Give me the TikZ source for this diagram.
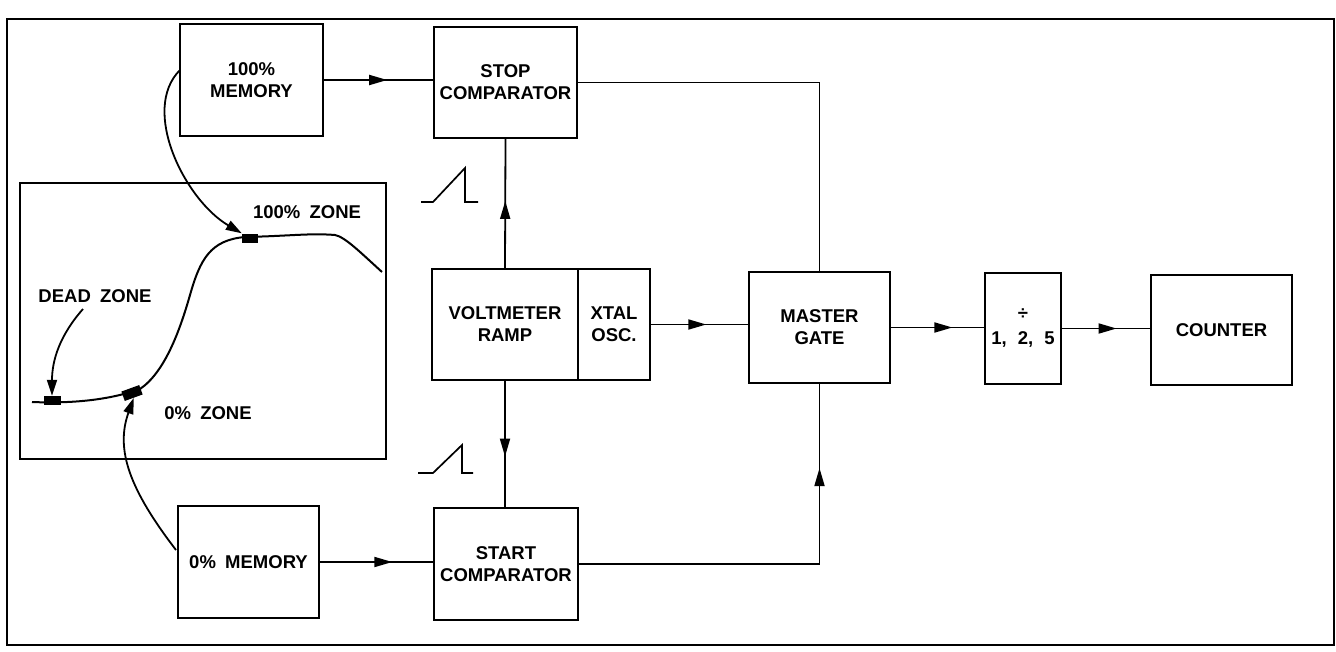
\documentclass[tikz,border=0pt]{standalone}
\usepackage{fontspec}
\setmainfont{Liberation Sans}
\usetikzlibrary{arrows.meta,decorations.markings}
\newcommand\lbl{\fontsize{18.5}{22}\selectfont\bfseries}
\begin{document}
\begin{tikzpicture}[x=1pt,y=-1pt,
  box/.style={draw,line width=2pt,inner sep=0pt,align=center,font=\lbl},
  wire/.style={line width=1.8pt},
  midarrow/.style={postaction={decorate},decoration={markings,mark=at position #1 with {\arrow{Triangle[length=18pt,width=10pt]}}}},
  tiparrow/.style={-{Triangle[length=16pt,width=10pt]}},
  marker/.style={fill=black,inner sep=0pt,minimum width=16pt,minimum height=9pt},
  txt/.style={font=\lbl,inner sep=0pt}]
\useasboundingbox (0,0) rectangle (1336,651);
% frame
\draw[line width=2pt] (7,19) rectangle (1334,645);
% blocks
\node[box,minimum width=143pt,minimum height=112pt] (mem100) at (251.5,80) {100\%\\MEMORY};
\node[box,minimum width=143pt,minimum height=111pt] (stop) at (505.5,82.5) {STOP\\COMPARATOR};
\node[box,minimum width=146pt,minimum height=111pt] (volt) at (505,324.5) {VOLTMETER\\RAMP};
\node[box,minimum width=72pt,minimum height=111pt] (xtal) at (614,324.5) {XTAL\\OSC.};
\node[box,minimum width=141pt,minimum height=111pt] (master) at (819.5,327.5) {MASTER\\GATE};
\node[box,minimum width=76pt,minimum height=111pt] (div) at (1023,328.5) {÷\\[3pt]1,\hspace{0.6em}2,\hspace{0.6em}5};
\node[box,minimum width=141pt,minimum height=110pt] (counter) at (1221.5,330) {COUNTER};
\node[box,minimum width=141pt,minimum height=112pt] (mem0) at (248.5,562) {0\%\hspace{0.5em}MEMORY};
\node[box,minimum width=144pt,minimum height=112pt] (start) at (506,564) {START\\COMPARATOR};
% graph panel
\draw[line width=2pt] (20,183) rectangle (386,459);
\draw[line width=2pt] (32,402) .. controls (80,404) and (115,398) .. (140,389)
  .. controls (165,372) and (180,330) .. (190,295)
  .. controls (200,260) and (210,240) .. (245,237)
  .. controls (290,236) and (310,233) .. (335,235)
  .. controls (345,237) and (360,252) .. (382,272);
\node[marker,minimum width=17pt] (mdead) at (52,400.5) {};
\node[marker,minimum width=19pt,minimum height=10pt,rotate=20] (mzero) at (132,393) {};
\node[marker] (mfull) at (250,238) {};
\node[txt] (ldead) at (95,296) {DEAD\hspace{0.5em}ZONE};
\node[txt] (lfull) at (307,212) {100\%\hspace{0.5em}ZONE};
\node[txt] (lzero) at (208,413) {0\%\hspace{0.5em}ZONE};
% curved pointers
\coordinate (p1) at (180,70);
\coordinate (p2) at (83,309);
\coordinate (p3) at (176,550);
\draw[wire,tiparrow] (p1) .. controls (140,110) and (185,200) .. (mfull.north west);
\draw[wire,tiparrow] (p2) .. controls (60,335) and (52,360) .. (mdead.north);
\draw[wire,tiparrow] (p3) .. controls (130,490) and (115,450) .. (mzero.south);
% connectors
\draw[wire,midarrow=0.58] (mem100.east) -- (mem100.east -| stop.west);
\draw[wire] (stop.east) -| (master.north);
\draw[wire,midarrow=0.52] (volt.north) -- (stop.south);
\draw[wire,midarrow=0.6] (volt.south) -- (volt.south |- start.north);
\draw[wire,midarrow=0.57] (xtal.east) -- (xtal.east -| master.west);
\draw[wire,midarrow=0.66] (master.east) -- (master.east -| div.west);
\draw[wire,midarrow=0.62] (div.east) -- (div.east -| counter.west);
\draw[wire,midarrow=0.64] (mem0.east) -- (mem0.east -| start.west);
\draw[wire,midarrow=0.8] (start.east) -| (master.south);
% ramp waveforms
\draw[line width=1.7pt] (421,202) -- (433,202) -- (465,168) -- (465,202) -- (478,202);
\draw[line width=1.7pt] (418,473) -- (433,473) -- (462,445) -- (462,473) -- (473,473);
\end{tikzpicture}
\end{document}
